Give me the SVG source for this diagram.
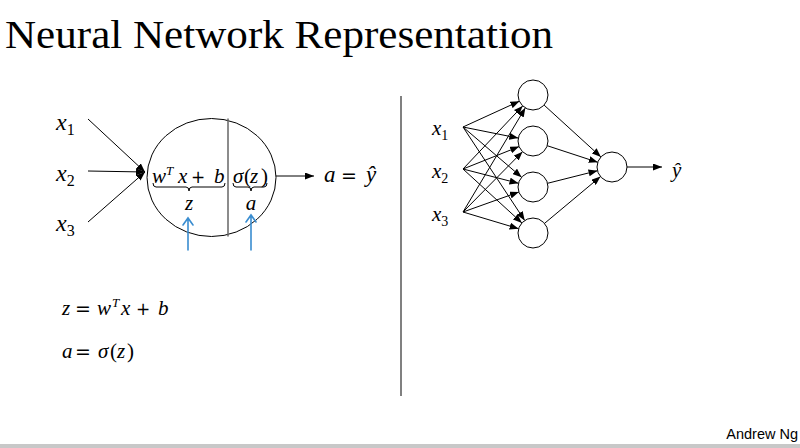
<svg xmlns="http://www.w3.org/2000/svg" width="800" height="448" viewBox="0 0 800 448">
<style>
.m{font-family:"Liberation Serif","DejaVu Serif",serif;font-style:italic;fill:#000}
.r{font-style:normal}
.o{font-family:"DejaVu Sans",sans-serif;font-style:normal}
.ln{stroke:#000;stroke-width:1;fill:none}
.nd{fill:#fff;stroke:#000;stroke-width:1}
.bl{stroke:#3a8dd0;stroke-width:1.6;fill:none;stroke-linecap:round}
</style>
<defs>
<marker id="ah" markerWidth="9" markerHeight="7" refX="9" refY="3.5" orient="auto" markerUnits="userSpaceOnUse">
<path d="M0,0 L9,3.5 L0,7 z" fill="#000"/>
</marker>
</defs>
<rect width="800" height="448" fill="#fff"/>
<text x="5" y="48" font-family="Liberation Serif, DejaVu Serif, serif" font-size="41" textLength="548" lengthAdjust="spacingAndGlyphs" fill="#000">Neural Network Representation</text>

<g id="left-inputs">
<text class="m" x="56" y="130" font-size="24">x<tspan font-size="16" dy="5" class="r">1</tspan></text>
<text class="m" x="56" y="181" font-size="24">x<tspan font-size="16" dy="5" class="r">2</tspan></text>
<text class="m" x="56" y="231" font-size="24">x<tspan font-size="16" dy="5" class="r">3</tspan></text>
</g>

<g id="neuron">
<ellipse cx="211.5" cy="177.5" rx="64.5" ry="59" fill="#fff" stroke="#000" stroke-width="1"/>
<line x1="228" y1="118.5" x2="228" y2="236.5" stroke="#666" stroke-width="1.5"/>
<text class="m" y="183" font-size="21"><tspan x="152">w</tspan><tspan x="166" y="175" font-size="13">T</tspan><tspan x="178" y="183">x</tspan><tspan x="191" class="o" font-size="17">+</tspan><tspan x="214">b</tspan></text>
<text class="m" y="183" font-size="21"><tspan x="233">σ</tspan><tspan x="244" class="r">(</tspan><tspan x="250">z</tspan><tspan x="261" class="r">)</tspan></text>
<path class="ln" d="M153,183 Q153,187 156,187 L186,187 Q189,187 189,191 Q189,187 192,187 L222,187 Q225,187 225,183"/>
<path class="ln" d="M233,183 Q233,187 236,187 L248,187 Q251,187 251,191 Q251,187 254,187 L264,187 Q267,187 267,183"/>
<text class="m" x="189" y="210" font-size="21" text-anchor="middle">z</text>
<text class="m" x="251" y="210" font-size="21" text-anchor="middle">a</text>
</g>

<g id="output-left">
<text class="m" y="182" font-size="23"><tspan x="324">a</tspan><tspan x="341" class="o" font-size="19">=</tspan><tspan x="366">ŷ</tspan></text>
</g>

<g id="left-connectors">
<line class="ln" x1="88" y1="119" x2="145" y2="172" marker-end="url(#ah)"/>
<line class="ln" x1="88" y1="171" x2="145" y2="172" marker-end="url(#ah)"/>
<line class="ln" x1="88" y1="222" x2="145" y2="172" marker-end="url(#ah)"/>
<line class="ln" x1="276" y1="176" x2="314" y2="176" marker-end="url(#ah)"/>
<path class="bl" d="M188,250 L188,218 M183,225 L188,218 L193,225"/>
<path class="bl" d="M251,250 L251,215 M246,222 L251,215 L256,222"/>
</g>

<g id="equations">
<text class="m" y="315" font-size="21"><tspan x="62">z</tspan><tspan x="75" class="o" font-size="19">=</tspan><tspan x="97">w</tspan><tspan x="112" y="307" font-size="13">T</tspan><tspan x="121" y="315">x</tspan><tspan x="136" class="o" font-size="17">+</tspan><tspan x="158">b</tspan></text>
<text class="m" y="358" font-size="21"><tspan x="62">a</tspan><tspan x="75" class="o" font-size="19">=</tspan><tspan x="98">σ</tspan><tspan x="110" class="r">(</tspan><tspan x="117">z</tspan><tspan x="127" class="r">)</tspan></text>
</g>

<line x1="401" y1="96" x2="401" y2="396" stroke="#808080" stroke-width="2"/>

<g id="net-inputs">
<text class="m" x="432" y="135" font-size="21">x<tspan font-size="14" dy="5" class="r">1</tspan></text>
<text class="m" x="432" y="178" font-size="21">x<tspan font-size="14" dy="5" class="r">2</tspan></text>
<text class="m" x="432" y="221" font-size="21">x<tspan font-size="14" dy="5" class="r">3</tspan></text>
</g>

<g id="net-connectors">
<line class="ln" x1="463" y1="127" x2="519.4" y2="101.2" marker-end="url(#ah)"/>
<line class="ln" x1="463" y1="127" x2="518.3" y2="138.1" marker-end="url(#ah)"/>
<line class="ln" x1="463" y1="127" x2="521.6" y2="177.2" marker-end="url(#ah)"/>
<line class="ln" x1="463" y1="127" x2="524.7" y2="220.5" marker-end="url(#ah)"/>
<line class="ln" x1="463" y1="169" x2="522.7" y2="105.9" marker-end="url(#ah)"/>
<line class="ln" x1="463" y1="169" x2="519.1" y2="146.6" marker-end="url(#ah)"/>
<line class="ln" x1="463" y1="169" x2="518.5" y2="183.3" marker-end="url(#ah)"/>
<line class="ln" x1="463" y1="169" x2="521.9" y2="222.9" marker-end="url(#ah)"/>
<line class="ln" x1="463" y1="212" x2="525.3" y2="107.9" marker-end="url(#ah)"/>
<line class="ln" x1="463" y1="212" x2="522.5" y2="151.7" marker-end="url(#ah)"/>
<line class="ln" x1="463" y1="212" x2="518.9" y2="192.0" marker-end="url(#ah)"/>
<line class="ln" x1="463" y1="212" x2="518.6" y2="228.7" marker-end="url(#ah)"/>
<line class="ln" x1="544.1" y1="105.1" x2="600.9" y2="156.9" marker-end="url(#ah)"/>
<line class="ln" x1="547.2" y1="145.7" x2="597.8" y2="162.3" marker-end="url(#ah)"/>
<line class="ln" x1="547.5" y1="183.3" x2="597.5" y2="170.7" marker-end="url(#ah)"/>
<line class="ln" x1="544.5" y1="223.4" x2="600.5" y2="176.6" marker-end="url(#ah)"/>
<line class="ln" x1="627" y1="167" x2="662" y2="167" marker-end="url(#ah)"/>
</g>

<g id="h1"><circle class="nd" cx="533" cy="95" r="15"/></g>
<g id="h2"><circle class="nd" cx="533" cy="141" r="15"/></g>
<g id="h3"><circle class="nd" cx="533" cy="187" r="15"/></g>
<g id="h4"><circle class="nd" cx="533" cy="233" r="15"/></g>
<g id="out"><circle class="nd" cx="612" cy="167" r="15"/></g>
<g id="yhat"><text class="m" x="672" y="177" font-size="21">ŷ</text></g>

<text x="798" y="439" font-family="Liberation Sans, Arial, sans-serif" font-size="14.5" text-anchor="end" fill="#000">Andrew Ng</text>
<rect x="0" y="444" width="800" height="4" fill="#c8c8c8"/>
</svg>
